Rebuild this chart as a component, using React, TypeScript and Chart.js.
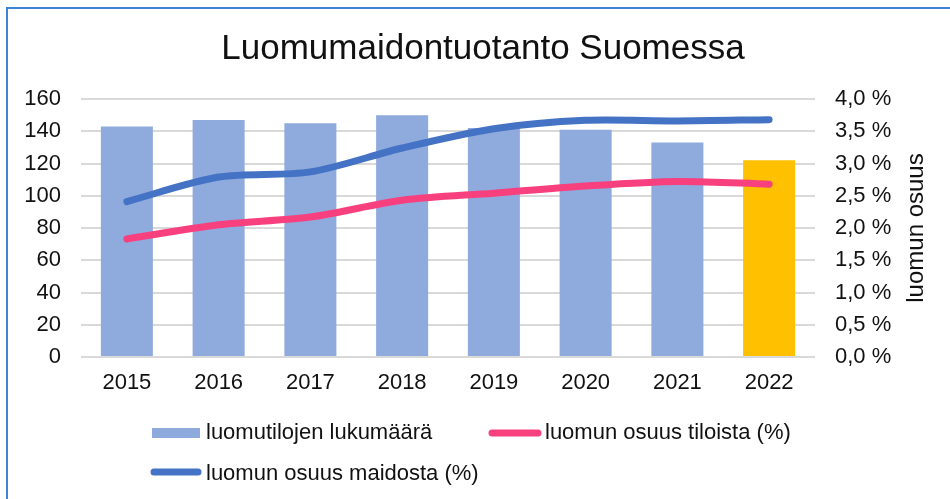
import React, { useEffect, useRef } from 'react';
import { Chart, registerables } from 'chart.js';

Chart.register(...registerables);

// ---- data ----
const chartTitle = 'Luomumaidontuotanto Suomessa';
const years = ['2015', '2016', '2017', '2018', '2019', '2020', '2021', '2022'];
const farmCounts = [143, 147, 145, 150, 142, 141, 133, 122];
const shareOfFarms = [1.83, 2.05, 2.17, 2.43, 2.54, 2.65, 2.72, 2.68];
const shareOfMilk = [2.41, 2.79, 2.87, 3.24, 3.54, 3.67, 3.66, 3.68];
const barLabel = 'luomutilojen lukumäärä';
const farmsLabel = 'luomun osuus tiloista (%)';
const milkLabel = 'luomun osuus maidosta (%)';
const rightAxisTitle = 'luomun osuus';

// ---- styles ----
const FONT = '"Liberation Sans", Arial, sans-serif';
const TEXT = '#111111';
const BAR = '#8FAADC';
const BAR_HIGHLIGHT = '#FFC000';
const PINK = '#F8407F';
const BLUE = '#4472C4';
const GRID = '#D9D9D9';

const W = 942;
const H = 491;

const customPlugin = {
  id: 'customLegendAndTitle',
  afterDraw(chart: any) {
    const ctx = chart.ctx as CanvasRenderingContext2D;
    const ds = chart.data.datasets;
    ctx.save();
    // right axis title, rotated counter-clockwise
    ctx.save();
    ctx.translate(915, (chart.chartArea.top + chart.chartArea.bottom) / 2);
    ctx.rotate(-Math.PI / 2);
    ctx.font = `24px ${FONT}`;
    ctx.fillStyle = TEXT;
    ctx.textAlign = 'center';
    ctx.textBaseline = 'alphabetic';
    ctx.fillText(rightAxisTitle, 0, 0);
    ctx.restore();

    // legend
    ctx.font = `22px ${FONT}`;
    ctx.fillStyle = TEXT;
    ctx.textAlign = 'left';
    ctx.textBaseline = 'alphabetic';

    // bar item
    const barColor = Array.isArray(ds[0].backgroundColor) ? ds[0].backgroundColor[0] : ds[0].backgroundColor;
    ctx.fillStyle = barColor;
    ctx.fillRect(144, 420, 48, 10);
    ctx.fillStyle = TEXT;
    ctx.fillText(ds[0].label, 198, 431);

    // line items
    const drawLineItem = (d: any, x1: number, x2: number, y: number, tx: number, ty: number) => {
      ctx.strokeStyle = d.borderColor;
      ctx.lineWidth = 7;
      ctx.lineCap = 'round';
      ctx.beginPath();
      ctx.moveTo(x1, y);
      ctx.lineTo(x2, y);
      ctx.stroke();
      ctx.fillStyle = TEXT;
      ctx.fillText(d.label, tx, ty);
    };
    drawLineItem(ds[1], 484, 530, 425, 537, 431);
    drawLineItem(ds[2], 146, 190, 464, 198, 472);
    ctx.restore();
  },
};

function App() {
  const ref = useRef<HTMLCanvasElement | null>(null);

  useEffect(() => {
    if (!ref.current) return;
    const chart = new Chart(ref.current, {
      type: 'bar',
      data: {
        labels: years,
        datasets: [
          {
            type: 'bar',
            label: barLabel,
            data: farmCounts,
            backgroundColor: farmCounts.map((_, i) => (i === farmCounts.length - 1 ? BAR_HIGHLIGHT : BAR)),
            borderWidth: 0,
            categoryPercentage: 1,
            barPercentage: 0.567,
            yAxisID: 'y',
            order: 3,
          } as any,
          {
            type: 'line',
            label: farmsLabel,
            data: shareOfFarms,
            borderColor: PINK,
            backgroundColor: PINK,
            borderWidth: 7,
            borderCapStyle: 'round',
            borderJoinStyle: 'round',
            pointRadius: 0,
            tension: 0.3,
            yAxisID: 'y1',
            order: 1,
          } as any,
          {
            type: 'line',
            label: milkLabel,
            data: shareOfMilk,
            borderColor: BLUE,
            backgroundColor: BLUE,
            borderWidth: 7,
            borderCapStyle: 'round',
            borderJoinStyle: 'round',
            pointRadius: 0,
            tension: 0.3,
            yAxisID: 'y1',
            order: 2,
          } as any,
        ],
      },
      options: {
        responsive: false,
        animation: false,
        layout: { padding: { left: 8, right: 0, top: 0, bottom: 92 } },
        plugins: {
          legend: { display: false },
          tooltip: { enabled: false },
          title: {
            display: true,
            text: chartTitle,
            color: TEXT,
            font: { family: FONT, size: 35, weight: 'normal', lineHeight: 1.2 },
            padding: { top: 20, bottom: 29 },
          },
        },
        scales: {
          x: {
            grid: { display: false, drawTicks: false },
            border: { display: false },
            ticks: { color: TEXT, font: { family: FONT, size: 22 }, padding: 13, maxRotation: 0 },
            afterFit: (s: any) => {
              s.height = 50;
            },
          },
          y: {
            position: 'left',
            min: 0,
            max: 160,
            grid: { color: GRID, lineWidth: 2, drawTicks: false },
            border: { display: false },
            ticks: { stepSize: 20, color: TEXT, font: { family: FONT, size: 22 }, padding: 20 },
            afterFit: (s: any) => {
              s.width = 65;
            },
          },
          y1: {
            position: 'right',
            min: 0,
            max: 4,
            grid: { display: false, drawTicks: false },
            border: { display: false },
            ticks: {
              stepSize: 0.5,
              color: TEXT,
              font: { family: FONT, size: 22 },
              padding: 20,
              callback: (v: any) => Number(v).toFixed(1).replace('.', ',') + ' %',
            },
            afterFit: (s: any) => {
              s.width = 135;
            },
          },
        },
      },
      plugins: [customPlugin],
    });
    return () => chart.destroy();
  }, []);

  return (
    <div style={{ position: 'fixed', left: 0, top: 0, width: 950, height: 499, overflow: 'hidden', background: '#fff' }}>
      <div
        style={{
          position: 'absolute',
          left: 6,
          top: 7,
          width: 1000,
          height: 600,
          border: '2px solid #3A86D4',
          boxSizing: 'border-box',
        }}
      />
      <canvas
        ref={ref}
        width={W}
        height={H}
        style={{ position: 'absolute', left: 8, top: 8, width: W, height: H }}
      />
    </div>
  );
}

export default App;
